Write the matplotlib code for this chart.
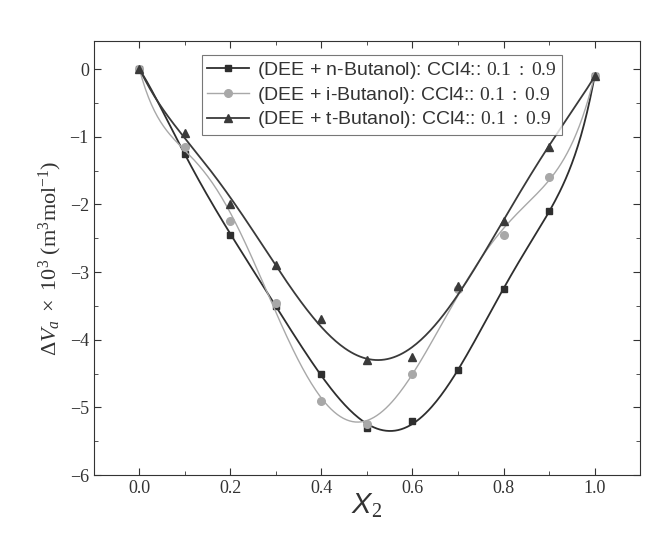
import numpy as np
import matplotlib
matplotlib.use("Agg")
import matplotlib.pyplot as plt
from matplotlib.ticker import MultipleLocator

plt.rcParams['mathtext.fontset'] = 'custom'
plt.rcParams['mathtext.rm'] = 'Liberation Serif'
plt.rcParams['mathtext.it'] = 'Liberation Serif:italic'
plt.rcParams['mathtext.sf'] = 'Liberation Sans:italic'

x2 = [0.0, 0.1, 0.2, 0.3, 0.4, 0.5, 0.6, 0.7, 0.8, 0.9, 1.0]
n_butanol = [0.0, -1.25, -2.45, -3.5, -4.5, -5.3, -5.2, -4.45, -3.25, -2.1, -0.1]
i_butanol = [0.0, -1.15, -2.25, -3.45, -4.9, -5.25, -4.5, -3.25, -2.45, -1.6, -0.1]
t_butanol = [0.0, -0.95, -2.0, -2.9, -3.7, -4.3, -4.25, -3.2, -2.25, -1.15, -0.1]
labels = ["(DEE + n-Butanol): CCl4:: $\\mathrm{0.1\\ :\\ 0.9}$",
          "(DEE + i-Butanol): CCl4:: $\\mathrm{0.1\\ :\\ 0.9}$",
          "(DEE + t-Butanol): CCl4:: $\\mathrm{0.1\\ :\\ 0.9}$"]

fig = plt.figure(figsize=(6.6, 5.43), dpi=100)
ax = fig.add_axes([0.142, 0.125, 0.828, 0.80])

styles = [dict(color='#2e2e2e', marker='s', ms=5, lw=1.3, deg=7),
          dict(color='#a8a8a8', marker='o', ms=5.5, lw=1.0, deg=7),
          dict(color='#3a3a3a', marker='^', ms=6, lw=1.3, deg=6)]
series = [n_butanol, i_butanol, t_butanol]

xs = np.linspace(0, 1, 300)
for ys, st, lab in zip(series, styles, labels):
    coef = np.polyfit(x2, ys, st['deg'])
    ax.plot(xs, np.polyval(coef, xs), color=st['color'], lw=st['lw'])
    ax.plot(x2, ys, linestyle='none', marker=st['marker'], ms=st['ms'],
            color=st['color'], mec=st['color'])
    ax.plot([], [], color=st['color'], lw=st['lw'], marker=st['marker'],
            ms=st['ms'], label=lab)

ax.set_xlim(-0.1, 1.1)
ax.set_ylim(-6, 0.42)
ax.xaxis.set_major_locator(MultipleLocator(0.2))
ax.xaxis.set_minor_locator(MultipleLocator(0.1))
ax.yaxis.set_major_locator(MultipleLocator(1))
ax.yaxis.set_minor_locator(MultipleLocator(0.5))
ax.tick_params(which='both', direction='in', top=True, right=True, colors='#333333')
ax.tick_params(which='major', length=5)
ax.tick_params(which='minor', length=3)
for lab in ax.get_xticklabels() + ax.get_yticklabels():
    lab.set_fontfamily('Liberation Serif')
    lab.set_fontsize(13)
    lab.set_color('#333333')
for s in ax.spines.values():
    s.set_color('#333333')

ax.set_xlabel("$\\mathsf{X}_\\mathrm{2}$", fontsize=21, color='#333333', labelpad=-4)
ax.set_ylabel("$\\Delta V_a\\ \\times\\ 10^3\\ (\\mathrm{m}^3\\mathrm{mol}^{-1})$",
              fontsize=16, color='#333333')

leg = ax.legend(loc='upper left', bbox_to_anchor=(0.18, 0.99), frameon=True,
                fancybox=False, edgecolor='#555555',
                prop={'family': 'Liberation Sans', 'size': 14},
                handlelength=2.2, borderpad=0.25, labelspacing=0.2,
                handletextpad=0.4)
leg.get_frame().set_linewidth(0.8)
for t in leg.get_texts():
    t.set_color('#333333')

fig.savefig("out.png", dpi=100)
